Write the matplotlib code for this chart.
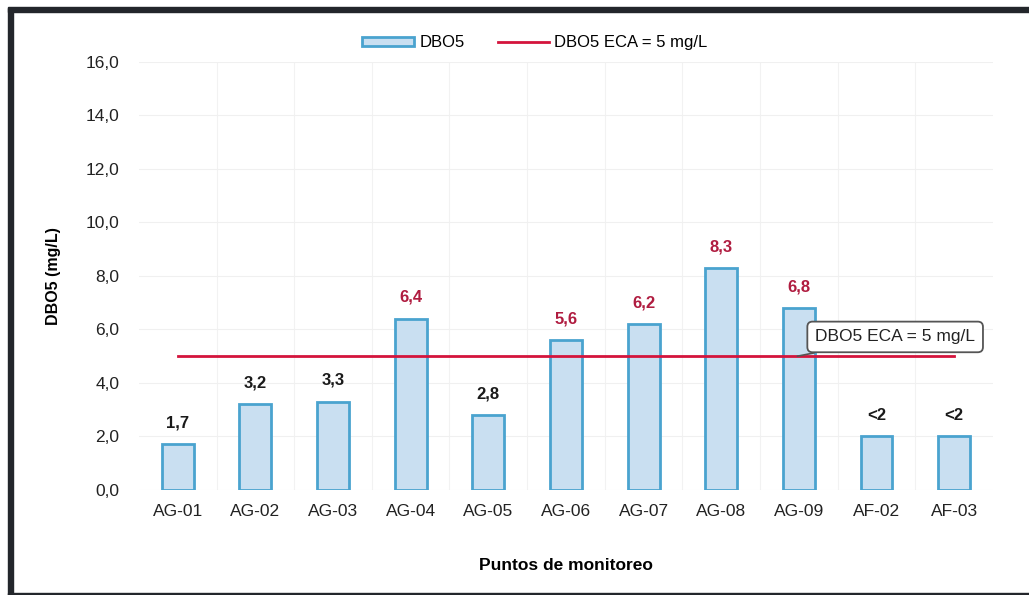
import matplotlib
matplotlib.use("Agg")
import matplotlib.pyplot as plt
from matplotlib.patches import Rectangle, Patch
from matplotlib.lines import Line2D

categories = ["AG-01", "AG-02", "AG-03", "AG-04", "AG-05", "AG-06", "AG-07", "AG-08", "AG-09", "AF-02", "AF-03"]
dbo5 = [1.7, 3.2, 3.3, 6.4, 2.8, 5.6, 6.2, 8.3, 6.8, 2.0, 2.0]
value_labels = ["1,7", "3,2", "3,3", "6,4", "2,8", "5,6", "6,2", "8,3", "6,8", "<2", "<2"]
eca_limit = 5.0
y_ticks = [0, 2, 4, 6, 8, 10, 12, 14, 16]
y_tick_labels = ["0,0", "2,0", "4,0", "6,0", "8,0", "10,0", "12,0", "14,0", "16,0"]

plt.rcParams['font.family'] = ['Liberation Sans', 'DejaVu Sans']

fig = plt.figure(figsize=(10.29, 5.95), dpi=100)
ax = fig.add_axes([0.135, 0.1765, 0.83, 0.7195])

x = list(range(len(categories)))
bar_face = "#c9dff1"
bar_edge = "#4aa3cf"
red = "#d4143c"
ax.bar(x, dbo5, width=0.41, color=bar_face, edgecolor=bar_edge, linewidth=2, zorder=3)
ax.plot([x[0], x[-1]], [eca_limit, eca_limit], color=red, linewidth=2, zorder=4)

for xi, v, lab in zip(x, dbo5, value_labels):
    col = "#b01c40" if v > eca_limit else "#1a1a1a"
    ax.annotate(lab, (xi, v), xytext=(0, 10), textcoords="offset points",
                ha="center", va="bottom", fontsize=12, fontweight="bold", color=col)

ax.set_ylim(0, 16)
ax.set_xlim(-0.5, len(categories) - 0.5)
ax.set_yticks(y_ticks)
ax.set_yticklabels(y_tick_labels, fontsize=12.5, color="#222222")
ax.set_xticks(x)
ax.set_xticklabels(categories, fontsize=12.5, color="#222222")
ax.tick_params(length=0, pad=10)
ax.tick_params(axis="y", pad=14)
ax.set_xticks([i + 0.5 for i in x[:-1]], minor=True)
ax.tick_params(which="minor", length=0)
ax.grid(True, which="major", axis="y", color="#f0f0f0", linewidth=0.8, zorder=0)
ax.grid(True, which="minor", axis="x", color="#f2f2f2", linewidth=0.8, zorder=0)
for s in ax.spines.values():
    s.set_visible(False)

ax.set_ylabel("DBO5 (mg/L)", fontsize=11.5, fontweight="bold", labelpad=18)
ax.set_xlabel("Puntos de monitoreo", fontsize=12.5, fontweight="bold", labelpad=28)

ax.annotate("DBO5 ECA = 5 mg/L", xy=(7.98, eca_limit), xytext=(9.24, 5.72),
            ha="center", va="center", fontsize=12.5, color="#222222", zorder=6,
            bbox=dict(boxstyle="round,pad=0.45,rounding_size=0.3", fc="white", ec="#555555", lw=1.3),
            arrowprops=dict(arrowstyle="-", color="#555555", lw=1.2, shrinkA=0, shrinkB=0))

handles = [Patch(facecolor=bar_face, edgecolor=bar_edge, linewidth=2, label="DBO5"),
           Line2D([0], [0], color=red, linewidth=2, label="DBO5 ECA = 5 mg/L")]
fig.legend(handles=handles, loc="center", bbox_to_anchor=(0.52, 0.928), ncol=2,
           frameon=False, fontsize=12, handlelength=3.1, handleheight=0.5, columnspacing=2.0,
           handletextpad=0.3)

# dark frame around the figure (left, top, bottom)
fr = "#23262b"
fig.patches.append(Rectangle((0.008, 0.0), 0.0045, 0.987, transform=fig.transFigure, color=fr))
fig.patches.append(Rectangle((0.008, 0.98), 0.992, 0.0075, transform=fig.transFigure, color=fr))
fig.patches.append(Rectangle((0.008, 0.0), 0.992, 0.004, transform=fig.transFigure, color=fr))

fig.savefig("out.png", dpi=100)
